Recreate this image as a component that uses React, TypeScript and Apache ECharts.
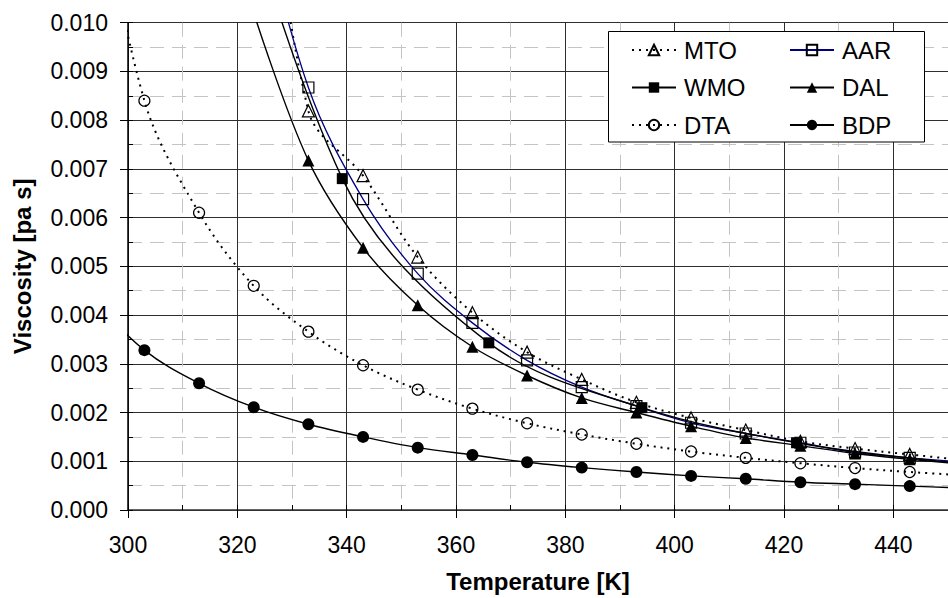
import { useEffect, useRef } from "react";
import * as echarts from "echarts";

// Temperature grids [K] per data set (first/last points lie just outside the plotted range)
const mtoT = [323, 333, 343, 353, 363, 373, 383, 393, 403, 413, 423, 433, 443, 453];
const mtoV = [0.016, 0.00819, 0.00686, 0.00519, 0.00405, 0.00324, 0.00268, 0.00221, 0.00189, 0.00164, 0.00141, 0.00126, 0.00114, 0.00102];

const aarT = [323, 333, 343, 353, 363, 373, 383, 393, 403, 413, 423, 433, 443, 453];
const aarV = [0.0128, 0.00867, 0.00638, 0.00485, 0.00384, 0.00307, 0.00252, 0.00213, 0.00179, 0.00157, 0.00138, 0.00118, 0.00107, 0.00098];

const wmoT = [311.3, 339.2, 366.0, 394.0, 422.3, 450.3];
const wmoV = [0.0165, 0.0068, 0.00343, 0.0021, 0.00138, 0.00098];

const dalT = [323, 333, 343, 353, 363, 373, 383, 393, 403, 413, 423, 433, 443, 453];
const dalV = [0.0102, 0.00717, 0.00538, 0.0042, 0.00335, 0.00276, 0.0023, 0.002, 0.00172, 0.00148, 0.00132, 0.00116, 0.00104, 0.00094];

const dtaT = [293, 303, 313, 323, 333, 343, 353, 363, 373, 383, 393, 403, 413, 423, 433, 443, 453];
const dtaV = [0.0138, 0.0084, 0.0061, 0.0046, 0.00366, 0.00297, 0.00247, 0.00208, 0.00178, 0.00155, 0.00136, 0.0012, 0.00107, 0.00096, 0.00086, 0.00078, 0.00071];

const bdpT = [293, 303, 313, 323, 333, 343, 353, 363, 373, 383, 393, 403, 413, 423, 433, 443, 453];
const bdpV = [0.0044, 0.00328, 0.0026, 0.00211, 0.00176, 0.0015, 0.00128, 0.00113, 0.00098, 0.00087, 0.00078, 0.0007, 0.00064, 0.00057, 0.00053, 0.00049, 0.00045];

const legendLeft = ["MTO", "WMO", "DTA"];
const legendRight = ["AAR", "DAL", "BDP"];

const FONT = "'Liberation Sans', Arial, sans-serif";
const HOLLOW = "rgba(255,255,255,0)";
const DOTS = [2, 5];

const pairs = (xs: number[], ys: number[]) => xs.map((x, i) => [x, ys[i]]);

export default function App() {
  const ref = useRef<HTMLDivElement>(null);

  useEffect(() => {
    if (!ref.current) return;
    const chart = echarts.init(ref.current, null, { renderer: "svg" });

    const base = {
      type: "line",
      smooth: 0.35,
      clip: true,
      xAxisIndex: 0,
      yAxisIndex: 0,
    };

    const legendCommon = {
      orient: "vertical",
      top: 37,
      padding: 0,
      itemWidth: 44,
      itemHeight: 13,
      itemGap: 11.5,
      z: 20,
      textStyle: { fontSize: 24, color: "#000", fontFamily: FONT, lineHeight: 26, padding: [0, 0, 0, 3] },
    };

    chart.setOption({
      animation: false,
      backgroundColor: "#ffffff",
      textStyle: { fontFamily: FONT, color: "#000" },
      grid: { left: 128, top: 22.7, right: -5, bottom: 87.3 },
      xAxis: [
        {
          type: "value",
          min: 300,
          max: 450,
          interval: 20,
          position: "bottom",
          name: "Temperature [K]",
          nameLocation: "middle",
          nameGap: 59,
          nameTextStyle: { fontSize: 24, fontWeight: "bold", color: "#000", fontFamily: FONT },
          axisLine: { show: true, onZero: false, lineStyle: { color: "#333", width: 1.5 } },
          axisTick: { show: true, length: 8, lineStyle: { color: "#000", width: 1 } },
          axisLabel: { fontSize: 23, color: "#000", margin: 23, showMaxLabel: false, fontFamily: FONT },
          splitLine: { show: true, lineStyle: { color: "#2e2e2e", width: 1 } },
          minorTick: { show: false, splitNumber: 2 },
          minorSplitLine: { show: true, lineStyle: { color: "#c4c4c4", width: 1, type: [14, 8] } },
        },
        {
          type: "value",
          min: 300,
          max: 450,
          interval: 10,
          position: "bottom",
          axisLine: { show: false },
          axisTick: { show: true, inside: true, length: 5, lineStyle: { color: "#000" } },
          axisLabel: { show: false },
          splitLine: { show: false },
        },
      ],
      yAxis: [
        {
          type: "value",
          min: 0,
          max: 0.01,
          interval: 0.001,
          position: "left",
          name: "Viscosity [pa s]",
          nameLocation: "middle",
          nameGap: 94,
          nameTextStyle: { fontSize: 24, fontWeight: "bold", color: "#000", fontFamily: FONT },
          axisLine: { show: true, onZero: false, lineStyle: { color: "#000", width: 1.5 } },
          axisTick: { show: true, length: 8, lineStyle: { color: "#000", width: 1 } },
          axisLabel: {
            fontSize: 23,
            color: "#000",
            margin: 20,
            fontFamily: FONT,
            formatter: (v: number) => v.toFixed(3),
          },
          splitLine: { show: true, lineStyle: { color: "#2e2e2e", width: 1 } },
          minorTick: { show: false, splitNumber: 2 },
          minorSplitLine: { show: true, lineStyle: { color: "#c4c4c4", width: 1, type: [14, 8] } },
        },
        {
          type: "value",
          min: 0,
          max: 0.01,
          interval: 0.0005,
          position: "left",
          axisLine: { show: false },
          axisTick: { show: true, inside: true, length: 5, lineStyle: { color: "#000" } },
          axisLabel: { show: false },
          splitLine: { show: false },
        },
      ],
      legend: [
        { ...legendCommon, data: legendLeft, left: 631 },
        { ...legendCommon, data: legendRight, left: 789 },
      ],
      graphic: [
        {
          type: "rect",
          z: 10,
          shape: { x: 608.5, y: 31.5, width: 316, height: 110.5 },
          style: { fill: "#ffffff", stroke: "#000", lineWidth: 1 },
        },
      ],
      series: [
        {
          ...base,
          name: "MTO",
          data: pairs(mtoT, mtoV),
          symbol: "triangle",
          symbolSize: 12,
          itemStyle: { color: HOLLOW, borderColor: "#000", borderWidth: 1.2 },
          lineStyle: { color: "#000", width: 2, type: DOTS },
        },
        {
          ...base,
          name: "AAR",
          data: pairs(aarT, aarV),
          symbol: "rect",
          symbolSize: 11,
          itemStyle: { color: HOLLOW, borderColor: "#000", borderWidth: 1.2 },
          lineStyle: { color: "#000080", width: 1.3 },
        },
        {
          ...base,
          name: "WMO",
          data: pairs(wmoT, wmoV),
          symbol: "rect",
          symbolSize: 11,
          itemStyle: { color: "#000", borderColor: "#000", borderWidth: 0 },
          lineStyle: { color: "#000", width: 1.4 },
        },
        {
          ...base,
          name: "DAL",
          data: pairs(dalT, dalV),
          symbol: "triangle",
          symbolSize: 12,
          itemStyle: { color: "#000", borderColor: "#000", borderWidth: 0 },
          lineStyle: { color: "#000", width: 1.4 },
        },
        {
          ...base,
          name: "DTA",
          data: pairs(dtaT, dtaV),
          symbol: "circle",
          symbolSize: 11,
          itemStyle: { color: HOLLOW, borderColor: "#000", borderWidth: 1.2 },
          lineStyle: { color: "#000", width: 2, type: DOTS },
        },
        {
          ...base,
          name: "BDP",
          data: pairs(bdpT, bdpV),
          symbol: "circle",
          symbolSize: 12,
          itemStyle: { color: "#000", borderColor: "#000", borderWidth: 0 },
          lineStyle: { color: "#000", width: 1.4 },
        },
      ],
    });

    return () => chart.dispose();
  }, []);

  return (
    <div
      ref={ref}
      style={{ position: "absolute", left: 0, top: 0, width: 948, height: 598, background: "#fff" }}
    />
  );
}
